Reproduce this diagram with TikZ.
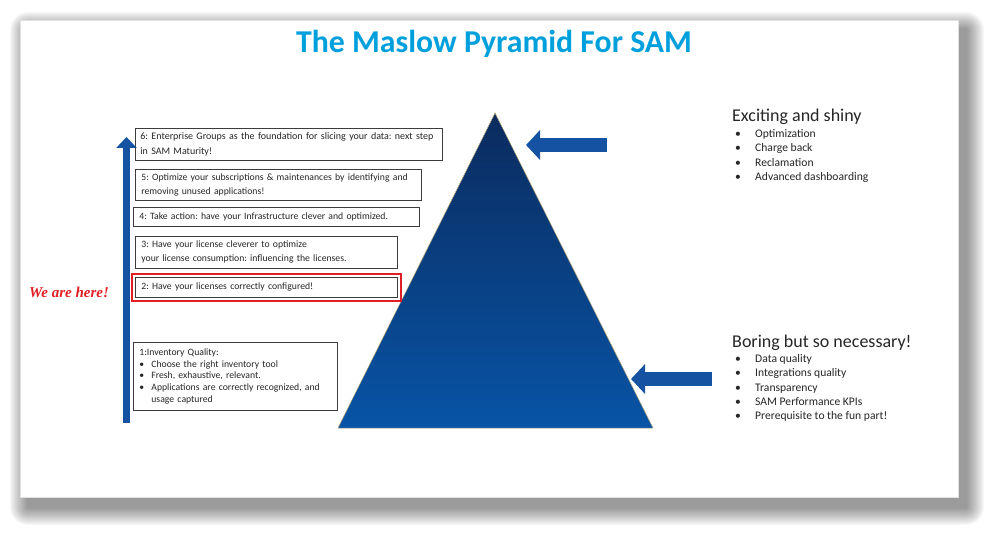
\documentclass[tikz,border=0pt]{standalone}
\usepackage{fontspec}
\setmainfont{Carlito}
\newfontfamily\herefont{Liberation Serif}
\usetikzlibrary{positioning,arrows.meta,fit}
\definecolor{titleBlue}{HTML}{00A0DC}
\definecolor{textDark}{HTML}{262626}
\definecolor{boxEdge}{HTML}{3C3C3C}
\definecolor{hereRed}{HTML}{E01E24}
\definecolor{arrowBlue}{HTML}{1553A2}
\definecolor{pyrTop}{HTML}{0B2B5E}
\definecolor{pyrBottom}{HTML}{0854A6}
\definecolor{pyrEdge}{HTML}{B8A77A}
\tikzset{
  stepbox/.style={draw=boxEdge,line width=0.8pt,fill=white,align=left,
                  anchor=north west,inner xsep=6pt,inner ysep=2pt,
                  font=\fontsize{9.7}{14}\selectfont,text=textDark},
  listtext/.style={align=left,anchor=north west,inner sep=0pt,
                   font=\fontsize{11.6}{14.4}\selectfont,text=textDark},
  listhead/.style={anchor=base west,inner sep=0pt,
                   font=\fontsize{18}{20}\selectfont,text=textDark},
  blockarrow/.style={draw=arrowBlue,line cap=butt},
}
\newcommand{\blt}[1][20pt]{\makebox[#1][l]{\textbullet}}
\frenchspacing

\begin{document}
\begin{tikzpicture}[x=1pt,y=-1pt]
  \useasboundingbox (0,0) rectangle (998,537);
  % slide and its shadow
  \foreach \r in {1,...,18}
    \fill[black,opacity=0.028,rounded corners=\r pt]
      (28-\r,30-\r) rectangle (966+\r,507+\r);
  \fill[white,draw=black!12,line width=0.4pt] (20,20) rectangle (958,497);

  \node[font=\fontsize{31.8}{34}\selectfont\bfseries,text=titleBlue]
    (title) at (494,44) {The Maslow Pyramid For SAM};

  % pyramid
  \coordinate (apex) at (495,113);
  \coordinate (baseL) at (338,428);
  \coordinate (baseR) at (653,428);
  \shade[top color=pyrTop,bottom color=pyrBottom,draw=pyrEdge,line width=0.5pt]
    (apex) -- (baseR) -- (baseL) -- cycle;

  % maturity steps
  \node[stepbox,text width=297pt,minimum height=32pt,inner xsep=5pt,
        font=\fontsize{10}{14.5}\selectfont] (lvl6) at (135,128)
    {6: Enterprise Groups as the foundation for slicing your data: next step\\in SAM Maturity!};
  \node[stepbox,text width=274pt,minimum height=31pt] (lvl5) at (135,169)
    {5: Optimize your subscriptions \& maintenances by identifying and\\removing unused applications!};
  \node[stepbox,text width=274pt,minimum height=19pt] (lvl4) at (133,207)
    {4: Take action: have your Infrastructure clever and optimized.};
  \node[stepbox,text width=250pt,minimum height=32pt] (lvl3) at (135,236)
    {3: Have your license cleverer to optimize\\your license consumption: influencing the licenses.};
  \node[stepbox,text width=250pt,minimum height=20pt] (lvl2) at (135,277)
    {2: Have your licenses correctly configured!};
  \node[stepbox,text width=192pt,minimum height=68pt,
        font=\fontsize{9.7}{11.8}\selectfont] (lvl1) at (133,342)
    {1:Inventory Quality:\\
     \blt[12pt]Choose the right inventory tool\\
     \blt[12pt]Fresh, exhaustive, relevant.\\
     \blt[12pt]Applications are correctly recognized, and\\
     \hspace*{12pt}usage captured};

  \node[draw=hereRed,line width=1.4pt,inner sep=3pt,fit=(lvl2)] (hereFrame) {};
  \node[font=\herefont\bfseries\itshape\fontsize{15}{17}\selectfont,text=hereRed]
    (hereTag) at (69,292) {We are here!};

  % climbing arrow
  \coordinate (climbFoot) at (126.5,423);
  \coordinate (climbTip) at (126.5,137);
  \draw[blockarrow,line width=7pt,-{Triangle[width=20pt,length=11pt]}]
    (climbFoot) -- (climbTip);

  % top and bottom of the pyramid
  \node[listhead] (shinyHead) at (732,122) {Exciting and shiny};
  \node[listtext] (shinyList) at (735,129)
    {\blt Optimization\\\blt Charge back\\\blt Reclamation\\\blt Advanced dashboarding};
  \node[listhead] (boringHead) at (732,347) {Boring but so necessary!};
  \node[listtext] (boringList) at (735,354)
    {\blt Data quality\\\blt Integrations quality\\\blt Transparency\\
     \blt SAM Performance KPIs\\\blt Prerequisite to the fun part!};

  \coordinate (shinyTail) at (607,145);
  \coordinate (shinyTip) at (526,145);
  \draw[blockarrow,line width=14pt,-{Triangle[width=29pt,length=14pt]}]
    (shinyTail) -- (shinyTip);
  \coordinate (boringTail) at (712,379);
  \coordinate (boringTip) at (631,379);
  \draw[blockarrow,line width=14pt,-{Triangle[width=29pt,length=14pt]}]
    (boringTail) -- (boringTip);
\end{tikzpicture}
\end{document}
